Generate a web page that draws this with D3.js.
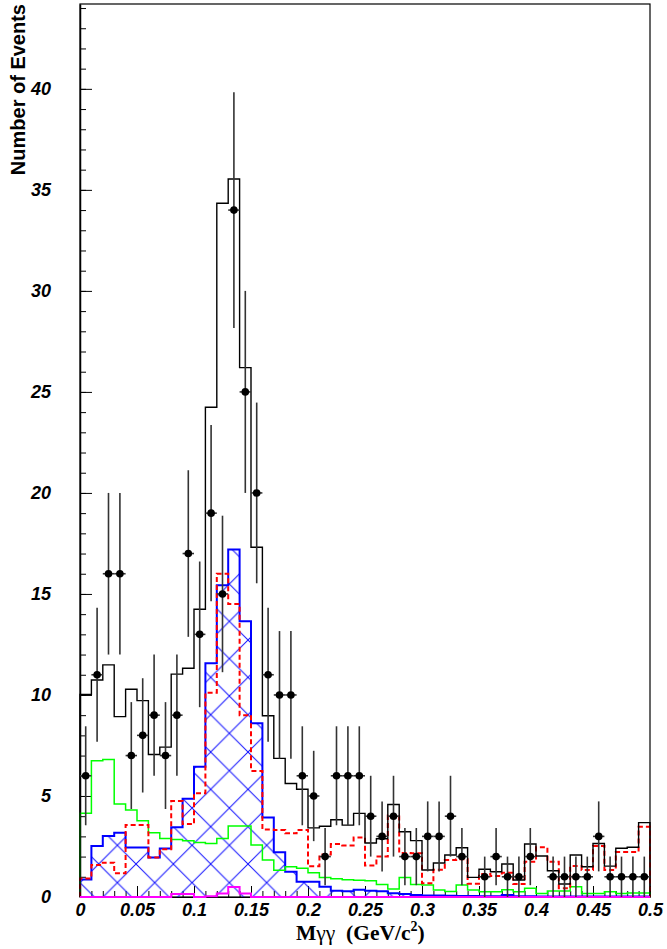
<!DOCTYPE html>
<html>
<head>
<meta charset="utf-8">
<script src="https://cdn.jsdelivr.net/npm/d3@7/dist/d3.min.js"></script>
<style>
  html, body { margin: 0; padding: 0; background: #fff; }
  svg { display: block; }
</style>
</head>
<body>
<svg id="chart" width="667" height="949"></svg>
<script>
// Di-photon invariant mass spectrum, 10 MeV bins from 0 to 0.5 GeV/c^2
const binWidth = 0.01;
const massCenters = [
  0.005, 0.015, 0.025, 0.035, 0.045, 0.055, 0.065, 0.075, 0.085, 0.095,
  0.105, 0.115, 0.125, 0.135, 0.145, 0.155, 0.165, 0.175, 0.185, 0.195,
  0.205, 0.215, 0.225, 0.235, 0.245, 0.255, 0.265, 0.275, 0.285, 0.295,
  0.305, 0.315, 0.325, 0.335, 0.345, 0.355, 0.365, 0.375, 0.385, 0.395,
  0.405, 0.415, 0.425, 0.435, 0.445, 0.455, 0.465, 0.475, 0.485, 0.495
];

// Observed events per bin
const dataCounts = [
  6, 11, 16, 16, 7, 8, 9, 7, 9, 17,
  13, 19, 15, 34, 25, 20, 11, 10, 10, 6,
  5, 2, 6, 6, 6, 4, 3, 4, 2, 2,
  3, 3, 4, 2, 0, 1, 2, 1, 1, 2,
  0, 1, 1, 1, 1, 3, 1, 1, 1, 1
];

// Sum of all simulated contributions (black)
const totalMC = [
  10.03, 10.74, 11.49, 8.93, 10.28, 9.72, 7.05, 7.42, 11.03, 11.32,
  14.24, 24.24, 34.34, 35.54, 26.2, 17.31, 8.97, 6.86, 5.62, 5.33,
  3.42, 3.5, 3.82, 3.56, 4.14, 2.67, 2.88, 4.58, 3.23, 2.79,
  1.34, 1.68, 2.08, 2.44, 0.97, 1.37, 1.25, 1.63, 0.84, 2.62,
  2.03, 1.3, 0.64, 2.08, 1.5, 2.65, 1.53, 2.41, 2.46, 3.68
];

// pi0 signal component (blue, cross-hatched)
const signalMC = [
  0.87, 2.52, 3.02, 3.18, 2.45, 2.45, 1.96, 2.4, 3.45, 4.86,
  6.45, 11.57, 15.43, 17.2, 13.65, 8.6, 3.94, 2.22, 1.25, 0.76,
  0.76, 0.51, 0.31, 0.28, 0.36, 0.31, 0.28, 0.18, 0.15, 0.1,
  0.08, 0.08, 0.06, 0.05, 0.05, 0.04, 0.04, 0.1, 0.04, 0.04,
  0.03, 0.03, 0.03, 0.03, 0.03, 0.03, 0.03, 0.03, 0.03, 0.03
];

// Background component (red, dashed)
const bkgDashed = [
  0.92, 1.58, 1.7, 1.17, 3.56, 3.56, 1.96, 2.36, 4.75, 3.61,
  5.14, 10.11, 16.0, 14.5, 9.0, 6.24, 3.34, 3.32, 3.15, 3.32,
  1.52, 2.1, 2.62, 2.55, 2.95, 1.56, 2.0, 4.04, 2.18, 2.16,
  0.68, 1.35, 1.83, 1.87, 0.66, 1.14, 1.04, 1.2, 0.64, 1.75,
  2.46, 1.75, 0.43, 1.53, 1.34, 2.52, 1.34, 2.23, 2.23, 3.48
];

// Background component (green)
const bkgGreen = [
  4.14, 6.75, 6.81, 4.6, 4.3, 3.77, 3.18, 2.89, 2.85, 2.78,
  2.7, 2.65, 2.89, 3.51, 3.51, 2.57, 1.83, 1.33, 1.5, 1.42,
  1.2, 0.97, 0.9, 0.85, 0.83, 0.8, 0.62, 0.4, 0.97, 0.62,
  0.6, 0.35, 0.27, 0.59, 0.35, 0.26, 0.26, 0.36, 0.26, 0.43,
  0.17, 0.3, 0.3, 0.51, 0.17, 0.17, 0.26, 0.17, 0.2, 0.2
];

// Small residual component (magenta)
const bkgMagenta = [
  0, 0, 0, 0, 0, 0, 0, 0, 0.15, 0.15,
  0, 0.04, 0.17, 0.5, 0.17, 0, 0, 0, 0, 0,
  0, 0, 0, 0, 0, 0, 0, 0, 0, 0,
  0, 0, 0, 0, 0, 0, 0, 0, 0, 0,
  0, 0, 0, 0, 0, 0, 0, 0, 0, 0
];

const xTickValues = [0, 0.05, 0.1, 0.15, 0.2, 0.25, 0.3, 0.35, 0.4, 0.45, 0.5];
const xTickLabels = ["0", "0.05", "0.1", "0.15", "0.2", "0.25", "0.3", "0.35", "0.4", "0.45", "0.5"];
const yTickValues = [0, 5, 10, 15, 20, 25, 30, 35, 40];
const yTickLabels = ["0", "5", "10", "15", "20", "25", "30", "35", "40"];

const svg = d3.select("#chart");
const frame = { left: 80, right: 650, top: 4, bottom: 897 };

const x = d3.scaleLinear().domain([0, 0.5]).range([frame.left, frame.right]);
const y = d3.scaleLinear().domain([0, 44.2]).range([frame.bottom, frame.top]);

const labelFont = "'Liberation Sans', Arial, Helvetica, sans-serif";

// Cross-hatch fill for the signal histogram
const P = 37.33;
const defs = svg.append("defs");
const pat = defs.append("pattern")
  .attr("id", "crosshatch")
  .attr("patternUnits", "userSpaceOnUse")
  .attr("width", P).attr("height", P)
  .attr("x", 98.7 % P).attr("y", 864 % P);
pat.append("path")
  .attr("d", `M0,0L${P},${P}M0,${P}L${P},0M-1,-1L1,1M${P - 1},${P + 1}L${P + 1},${P - 1}`)
  .attr("stroke", "#1010ff").attr("stroke-width", 1).attr("fill", "none");

// Step-histogram outline from bin contents
function stepPoints(vals) {
  const pts = [[x(massCenters[0] - binWidth / 2), y(0)]];
  vals.forEach((v, i) => {
    const lo = massCenters[i] - binWidth / 2;
    const hi = massCenters[i] + binWidth / 2;
    pts.push([x(lo), y(v)], [x(hi), y(v)]);
  });
  pts.push([x(massCenters[massCenters.length - 1] + binWidth / 2), y(0)]);
  return pts;
}
const line = d3.line();

const plot = svg.append("g");

// Signal: hatched area plus outline
plot.append("path")
  .attr("d", line(stepPoints(signalMC)) + "Z")
  .attr("fill", "url(#crosshatch)")
  .attr("stroke", "none");
plot.append("path")
  .attr("d", line(stepPoints(signalMC)))
  .attr("fill", "none").attr("stroke", "#0000ff").attr("stroke-width", 2);

// Green background
plot.append("path")
  .attr("d", line(stepPoints(bkgGreen)))
  .attr("fill", "none").attr("stroke", "#00ff00").attr("stroke-width", 1.5);

// Red dashed background
plot.append("path")
  .attr("d", line(stepPoints(bkgDashed)))
  .attr("fill", "none").attr("stroke", "#ff0000").attr("stroke-width", 2)
  .attr("stroke-dasharray", "5,3");

// Total
plot.append("path")
  .attr("d", line(stepPoints(totalMC)))
  .attr("fill", "none").attr("stroke", "#000").attr("stroke-width", 1.4);

// Frame
svg.append("rect")
  .attr("x", frame.left).attr("y", frame.top)
  .attr("width", frame.right - frame.left).attr("height", frame.bottom - frame.top)
  .attr("fill", "none").attr("stroke", "#000").attr("stroke-width", 1.2);

// Y axis: major and minor ticks pointing into the frame
const yMinor = d3.range(0, 45, 1);
svg.append("g")
  .attr("transform", `translate(${frame.left},0)`)
  .call(d3.axisLeft(y).tickValues(yMinor).tickSize(-6).tickFormat(""))
  .call(g => g.select(".domain").remove())
  .call(g => g.selectAll("line").attr("stroke", "#000"));
const yAxis = svg.append("g")
  .attr("transform", `translate(${frame.left},0)`)
  .call(d3.axisLeft(y).tickValues(yTickValues).tickSize(-12).tickSizeOuter(0).tickPadding(29)
    .tickFormat((d, i) => yTickLabels[i]))
  .call(g => g.select(".domain").attr("stroke", "#000").attr("stroke-width", 1.5));
yAxis.selectAll("text")
  .attr("font-family", labelFont).attr("font-weight", "bold").attr("font-style", "italic")
  .attr("font-size", 18).attr("fill", "#000");

// X axis
const xMinor = d3.range(0, 0.5001, 0.01);
svg.append("g")
  .attr("transform", `translate(0,${frame.bottom})`)
  .call(d3.axisBottom(x).tickValues(xMinor).tickSize(-6).tickFormat(""))
  .call(g => g.select(".domain").remove())
  .call(g => g.selectAll("line").attr("stroke", "#000"));
const xAxis = svg.append("g")
  .attr("transform", `translate(0,${frame.bottom})`)
  .call(d3.axisBottom(x).tickValues(xTickValues).tickSize(-11).tickSizeOuter(0).tickPadding(6)
    .tickFormat((d, i) => xTickLabels[i]))
  .call(g => g.select(".domain").attr("stroke", "#000").attr("stroke-width", 1.2));
xAxis.selectAll("text")
  .attr("font-family", labelFont).attr("font-weight", "bold").attr("font-style", "italic")
  .attr("font-size", 18).attr("fill", "#000");

// Magenta component lies along the baseline, drawn over the axis line
plot.raise();
svg.append("path")
  .attr("d", line(stepPoints(bkgMagenta)))
  .attr("fill", "none").attr("stroke", "#ff00ff").attr("stroke-width", 2);

// Data points with Poisson errors
const pts = svg.append("g");
const dataRows = massCenters.map((m, i) => ({ m, n: dataCounts[i] })).filter(d => d.n > 0);
pts.selectAll("line.ev").data(dataRows).join("line")
  .attr("class", "ev")
  .attr("x1", d => x(d.m)).attr("x2", d => x(d.m))
  .attr("y1", d => y(d.n - Math.sqrt(d.n))).attr("y2", d => y(d.n + Math.sqrt(d.n)))
  .attr("stroke", "#333").attr("stroke-width", 1.6);
pts.selectAll("line.eh").data(dataRows).join("line")
  .attr("class", "eh")
  .attr("x1", d => x(d.m - binWidth / 2)).attr("x2", d => x(d.m + binWidth / 2))
  .attr("y1", d => y(d.n)).attr("y2", d => y(d.n))
  .attr("stroke", "#333").attr("stroke-width", 1.6);
pts.selectAll("circle").data(dataRows).join("circle")
  .attr("cx", d => x(d.m)).attr("cy", d => y(d.n)).attr("r", 3.8)
  .attr("fill", "#000");

// Axis titles
svg.append("text")
  .attr("transform", `translate(25,${frame.top}) rotate(-90)`)
  .attr("text-anchor", "end")
  .attr("font-family", labelFont).attr("font-weight", "bold")
  .attr("font-size", 20).attr("fill", "#000")
  .text("Number of Events");

const xTitle = svg.append("text")
  .attr("x", 296).attr("y", 940)
  .attr("font-family", "'Liberation Serif', 'Times New Roman', serif")
  .attr("font-weight", "bold").attr("font-size", 21.5).attr("fill", "#000");
xTitle.append("tspan").text("M");
xTitle.append("tspan").attr("font-weight", "normal").text("\u03b3\u03b3");
xTitle.append("tspan").text("\u00a0\u00a0(GeV/c");
xTitle.append("tspan").attr("dy", -9).attr("font-size", 14).text("2");
xTitle.append("tspan").attr("dy", 9).text(")");
</script>
</body>
</html>
